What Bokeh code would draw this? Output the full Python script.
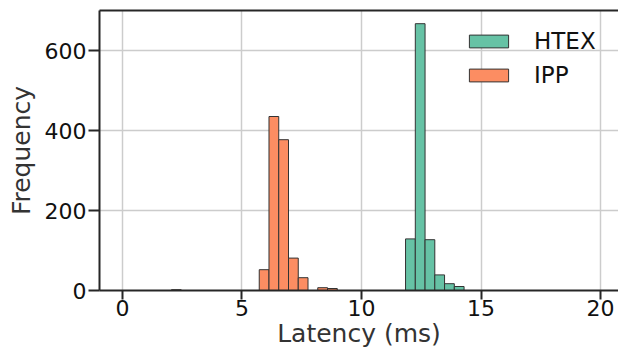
import numpy as np
from bokeh.plotting import figure
from bokeh.models import (LinearAxis, FixedTicker, Legend, LegendItem, Range1d,
                          ColumnDataSource)
from bokeh.embed import file_html
from bokeh.resources import INLINE

# Histogram definition (30 equal bins over the combined data range)
data_min = 2.05
data_max = 14.29
n_bins = 30

# Counts per bin
ipp_counts = [2, 0, 0, 0, 0, 0, 0, 0, 0, 52, 435, 377, 81, 32, 0, 7, 5,
              0, 0, 0, 0, 0, 0, 0, 0, 0, 0, 0, 0, 0]
htex_counts = [0, 0, 0, 0, 0, 0, 0, 0, 0, 0, 0, 0, 0, 0, 0, 0, 0,
               0, 0, 0, 0, 0, 0, 0, 129, 667, 127, 39, 17, 10]

x_ticks = [0, 5, 10, 15, 20]
y_ticks = [0, 200, 400, 600]

series_names = ["HTEX", "IPP"]
series_colors = ["#66c2a5", "#fc8d62"]

x_title = "Latency (ms)"
y_title = "Frequency"

edges = np.linspace(data_min, data_max, n_bins + 1)


def src(counts):
    c = np.array(counts)
    keep = c > 0
    return ColumnDataSource(dict(left=edges[:-1][keep], right=edges[1:][keep],
                                 top=c[keep]))


FONT = "DejaVu Sans"
DARK = "#262626"

p = figure(width=618, height=354,
           x_range=Range1d(-0.96, 20.75), y_range=Range1d(0, 700),
           output_backend="svg", toolbar_location=None,
           min_border_left=99, min_border_right=0, min_border_top=10,
           min_border_bottom=64,
           x_axis_label=x_title, y_axis_label=y_title)
p.outline_line_color = None
p.background_fill_color = "white"
p.border_fill_color = "white"

r_htex = p.quad(left="left", right="right", bottom=0, top="top",
                source=src(htex_counts), fill_color=series_colors[0],
                line_color="#333333", line_width=1)
r_ipp = p.quad(left="left", right="right", bottom=0, top="top",
               source=src(ipp_counts), fill_color=series_colors[1],
               line_color="#333333", line_width=1)

for ax in (p.xaxis[0], p.yaxis[0]):
    ax.axis_line_width = 2
    ax.axis_line_color = DARK
    ax.major_tick_line_width = 2
    ax.major_tick_line_color = DARK
    ax.major_tick_in = 0
    ax.minor_tick_line_color = None
    ax.major_label_text_font = FONT
    ax.major_label_text_font_size = "22px"
    ax.major_label_text_color = "#111111"
    ax.axis_label_text_font = FONT
    ax.axis_label_text_font_size = "25px"
    ax.axis_label_text_font_style = "normal"
    ax.axis_label_text_color = "#333333"

p.xaxis[0].ticker = FixedTicker(ticks=x_ticks)
p.yaxis[0].ticker = FixedTicker(ticks=y_ticks)
p.xaxis[0].major_tick_out = 9
p.xaxis[0].major_label_standoff = 0
p.xaxis[0].axis_label_standoff = 0
p.yaxis[0].major_tick_out = 11
p.yaxis[0].major_label_standoff = 2
p.yaxis[0].axis_label_standoff = 6

top_axis = LinearAxis(ticker=FixedTicker(ticks=[]), axis_line_width=2,
                      axis_line_color=DARK, major_tick_out=0, major_tick_in=0,
                      minor_tick_out=0, minor_tick_in=0,
                      major_label_standoff=0)
p.add_layout(top_axis, "above")

for g in (p.xgrid[0], p.ygrid[0]):
    g.grid_line_color = "#cccccc"
    g.grid_line_width = 1.5
p.xgrid[0].ticker = FixedTicker(ticks=x_ticks)
p.ygrid[0].ticker = FixedTicker(ticks=y_ticks)

legend = Legend(items=[LegendItem(label=series_names[0], renderers=[r_htex]),
                       LegendItem(label=series_names[1], renderers=[r_ipp])],
                location=(365, 202), glyph_width=49, glyph_height=16,
                label_height=16, spacing=8, label_standoff=21,
                padding=0, margin=0, border_line_color=None,
                background_fill_alpha=0,
                label_text_font=FONT, label_text_font_size="23px",
                label_text_color="#111111")
p.add_layout(legend)

open("out.html", "w").write(file_html(p, INLINE))
